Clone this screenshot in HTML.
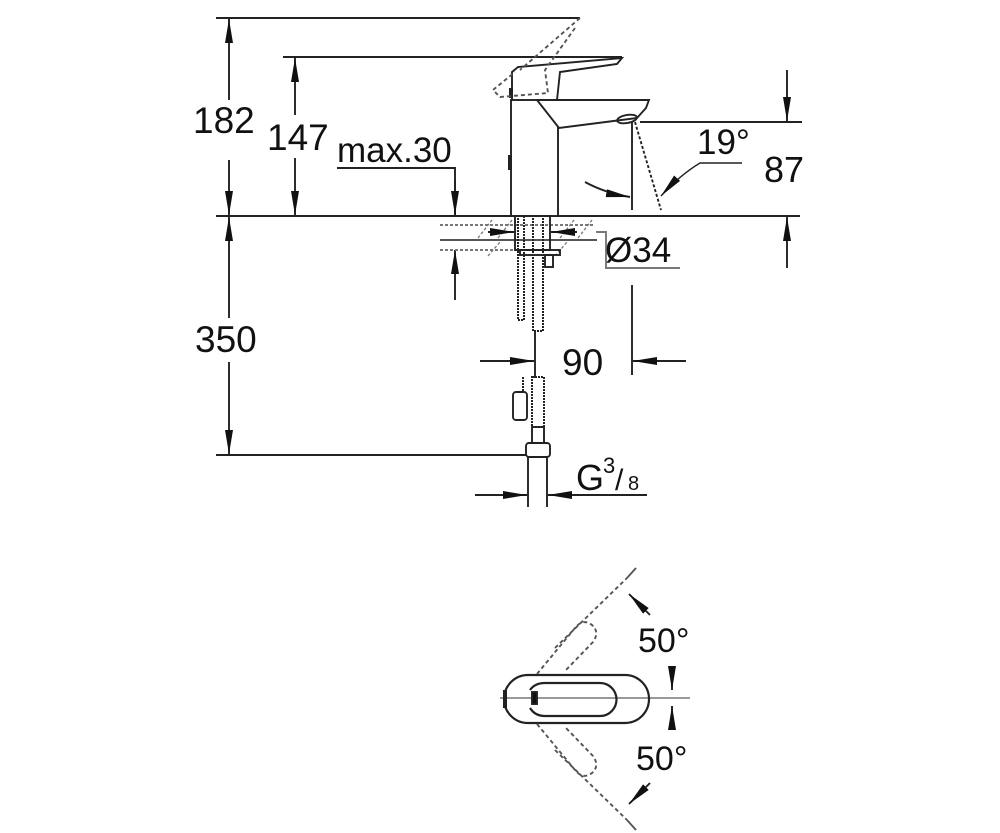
<!DOCTYPE html>
<html><head><meta charset="utf-8"><style>
html,body{margin:0;padding:0;background:#fff;}
svg{display:block;}
text{font-family:"Liberation Sans",sans-serif;fill:#111;}
</style></head><body>
<svg width="1000" height="833" viewBox="0 0 1000 833" xmlns="http://www.w3.org/2000/svg">
<defs>
<marker id="b" viewBox="0 0 10 10" refX="10" refY="5" markerWidth="24" markerHeight="10" markerUnits="userSpaceOnUse" orient="auto" preserveAspectRatio="none"><path d="M0,1 L10,5 L0,9 Z" fill="#111"/></marker>
</defs>
<g stroke="#222" stroke-width="1.9" fill="none">
<line x1="216" y1="18" x2="580" y2="18"/>
<line x1="283" y1="57" x2="622" y2="57"/>
<line x1="216" y1="216" x2="800" y2="216"/>
<line x1="216" y1="455" x2="527" y2="455"/>
<line x1="640" y1="122" x2="802" y2="122"/>
<line x1="229" y1="100" x2="229" y2="19" marker-end="url(#b)"/>
<line x1="229" y1="160" x2="229" y2="215" marker-end="url(#b)"/>
<line x1="295" y1="115" x2="295" y2="58" marker-end="url(#b)"/>
<line x1="295" y1="158" x2="295" y2="215" marker-end="url(#b)"/>
<line x1="229" y1="318" x2="229" y2="217" marker-end="url(#b)"/>
<line x1="229" y1="362" x2="229" y2="454" marker-end="url(#b)"/>
<polyline points="337,168 455,168 455,215" />
<line x1="455" y1="180" x2="455" y2="215" marker-end="url(#b)"/>
<line x1="455" y1="300" x2="455" y2="250" marker-end="url(#b)"/>
<line x1="787" y1="70" x2="787" y2="121" marker-end="url(#b)"/>
<line x1="787" y1="268" x2="787" y2="217" marker-end="url(#b)"/>
<rect x="511" y="100" width="47" height="116" fill="#fff"/>
<path d="M537,100 L649,100 L646,108 L637,118 L559,128 L537,100" fill="#fff"/>
<ellipse cx="627" cy="119" rx="10" ry="4" transform="rotate(-10 627 119)"/>
<path d="M512,100 L512,72 L518,67 L622,58 L617,64 L560,72 L557,100"/>
<line x1="511" y1="88" x2="511" y2="98" stroke-width="4"/>
<line x1="510" y1="155" x2="510" y2="170" stroke-width="4"/>
<path d="M580,18 L520,70 M575,28 L545,70 L548,93 L500,97 L493,90 L515,72" stroke-dasharray="4,3" stroke="#555"/>
<line x1="632" y1="122" x2="632" y2="210"/>
<line x1="635" y1="122" x2="661" y2="210" stroke-dasharray="3,2"/>
<path d="M585,182 Q605,193 630,197" marker-end="url(#b)"/>
<path d="M742,163 L700,163 Q680,175 661,196" marker-end="url(#b)" stroke-width="1.4"/>
<line x1="440" y1="225" x2="595" y2="225" stroke="#777" stroke-dasharray="3,2"/>
<line x1="440" y1="240" x2="597" y2="240" stroke="#555"/>
<g stroke="#777" stroke-width="1.3" stroke-dasharray="3,2">
<line x1="478" y1="238" x2="492" y2="220"/><line x1="498" y1="238" x2="512" y2="220"/>
<line x1="560" y1="238" x2="574" y2="220"/><line x1="578" y1="238" x2="592" y2="220"/>
<line x1="488" y1="256" x2="500" y2="242"/><line x1="555" y1="256" x2="567" y2="242"/>
</g>
<line x1="440" y1="250" x2="520" y2="250" stroke="#777" stroke-dasharray="3,2"/>
<rect x="515" y="216" width="35" height="34"/>
<rect x="518" y="216" width="6" height="104" stroke-width="2" stroke-dasharray="2,1"/>
<rect x="533" y="216" width="10" height="115" stroke-width="2" stroke-dasharray="2,1"/>
<rect x="520" y="250" width="40" height="5"/>
<rect x="545" y="255" width="8" height="12"/>
<line x1="488" y1="232" x2="514" y2="232" marker-end="url(#b)"/>
<line x1="577" y1="232" x2="551" y2="232" marker-end="url(#b)"/>
<polyline points="596,232 606,232 606,268 680,268" stroke="#777"/>
<line x1="535" y1="330" x2="535" y2="378"/>
<line x1="632" y1="285" x2="632" y2="375"/>
<line x1="480" y1="361" x2="534" y2="361" marker-end="url(#b)"/>
<line x1="686" y1="361" x2="633" y2="361" marker-end="url(#b)"/>
<rect x="532" y="377" width="12" height="50" stroke-width="2" stroke-dasharray="2,1"/>
<rect x="532" y="427" width="12" height="16"/>
<rect x="526" y="443" width="24" height="14" rx="3"/>
<line x1="523" y1="377" x2="523" y2="392" stroke-width="2" stroke-dasharray="2,1"/>
<rect x="513" y="392" width="14" height="28" rx="3"/>
<line x1="528" y1="457" x2="528" y2="507"/>
<line x1="547" y1="457" x2="547" y2="507"/>
<line x1="475" y1="495" x2="527" y2="495" marker-end="url(#b)"/>
<line x1="647" y1="495" x2="548" y2="495"/>
<line x1="600" y1="495" x2="548" y2="495" marker-end="url(#b)"/>
<line x1="500" y1="698" x2="690" y2="698" stroke="#999"/>
<rect x="504" y="675" width="145" height="48" rx="24" stroke-width="2.2"/>
<path d="M545,683 L600,683 A16.5,16.5 0 0 1 600,716 L545,716 Q535,716 530,708 M545,683 Q535,683 530,690" stroke-width="2.2"/>
<line x1="505" y1="690" x2="505" y2="708" stroke-width="4"/>
<rect x="532" y="692" width="5" height="12" fill="#111"/>
<path d="M537,674 L575,628 Q583,618 592,625 Q600,632 593,642 L566,670 M555,648 L627,578" stroke="#555" stroke-dasharray="4,3"/>
<path d="M537,724 L575,770 Q583,780 592,773 Q600,766 593,756 L566,728 M555,750 L627,820" stroke="#555" stroke-dasharray="4,3"/>
<line x1="627" y1="578" x2="636" y2="568" stroke="#555"/>
<line x1="627" y1="820" x2="636" y2="830" stroke="#555"/>
<line x1="650" y1="615" x2="629" y2="594" marker-end="url(#b)"/>
<line x1="650" y1="783" x2="629" y2="804" marker-end="url(#b)"/>
<line x1="672" y1="670" x2="672" y2="690" marker-end="url(#b)"/>
<line x1="672" y1="730" x2="672" y2="706" marker-end="url(#b)"/>
</g>
<text x="193" y="133" font-size="37">182</text>
<text x="267" y="150" font-size="37">147</text>
<text x="337" y="162" font-size="35">max.30</text>
<text x="697" y="154" font-size="35">19°</text>
<text x="764" y="182" font-size="36">87</text>
<text x="605" y="262" font-size="35">Ø34</text>
<text x="195" y="352" font-size="37">350</text>
<text x="562" y="375" font-size="37">90</text>
<text x="576" y="490" font-size="36">G</text>
<text x="603" y="473" font-size="22">3</text>
<text x="615" y="490" font-size="30">/</text>
<text x="628" y="490" font-size="20">8</text>
<text x="638" y="652" font-size="34">50°</text>
<text x="636" y="770" font-size="34">50°</text>
</svg>
</body></html>
